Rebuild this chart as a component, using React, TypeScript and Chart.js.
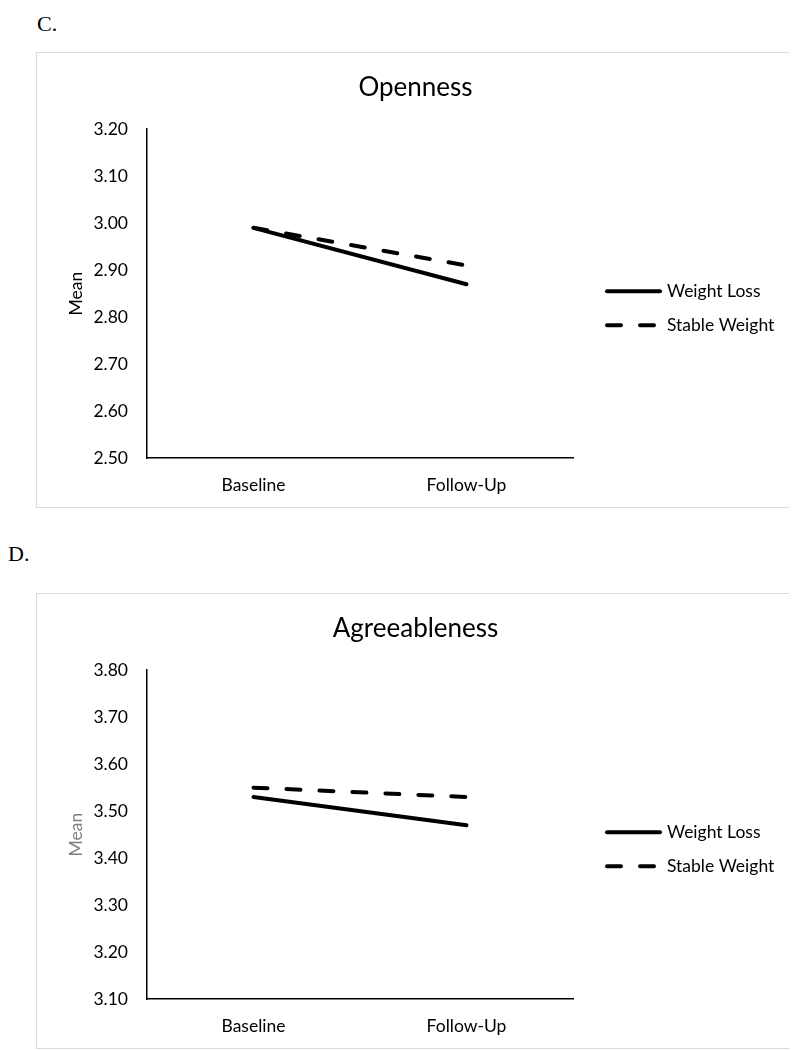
import React, { useEffect, useRef } from 'react';
import { Chart, registerables } from 'chart.js';

Chart.register(...registerables);

const categories = ['Baseline', 'Follow-Up'];
const seriesNames = ['Weight Loss', 'Stable Weight'];

const opennessWeightLoss = [2.99, 2.87];
const opennessStableWeight = [2.99, 2.91];
const opennessTicks = [2.5, 2.6, 2.7, 2.8, 2.9, 3.0, 3.1, 3.2];

const agreeWeightLoss = [3.53, 3.47];
const agreeStableWeight = [3.55, 3.53];
const agreeTicks = [3.1, 3.2, 3.3, 3.4, 3.5, 3.6, 3.7, 3.8];

const FONT = 'Lato';
const TEXT_SIZE = 17.5;

const lineLegend = {
  id: 'lineLegend',
  afterDraw(chart: any) {
    const { ctx, chartArea } = chart;
    const x0 = chartArea.right + 32;
    chart.data.datasets.forEach((ds: any, i: number) => {
      const y = chartArea.top + 162 + i * 34;
      ctx.save();
      ctx.strokeStyle = ds.borderColor;
      ctx.lineWidth = ds.borderWidth;
      ctx.lineCap = 'round';
      ctx.setLineDash(ds.borderDash || []);
      ctx.beginPath();
      ctx.moveTo(x0 + 2, y);
      ctx.lineTo(x0 + 55, y);
      ctx.stroke();
      ctx.setLineDash([]);
      ctx.fillStyle = '#000';
      ctx.font = `${TEXT_SIZE}px ${FONT}`;
      ctx.textBaseline = 'middle';
      ctx.textAlign = 'left';
      ctx.fillText(ds.label, x0 + 62, y);
      ctx.restore();
    });
  },
};

type PanelProps = {
  title: string;
  wl: number[];
  sw: number[];
  ticks: number[];
  meanColor: string;
  top: number;
};

function Panel({ title, wl, sw, ticks, meanColor, top }: PanelProps) {
  const ref = useRef<HTMLCanvasElement | null>(null);
  useEffect(() => {
    if (!ref.current) return;
    const chart = new Chart(ref.current, {
      type: 'line',
      data: {
        labels: categories,
        datasets: [
          {
            label: seriesNames[0],
            data: wl,
            borderColor: '#000',
            borderWidth: 4,
            borderCapStyle: 'round',
            pointRadius: 0,
            fill: false,
            tension: 0,
          },
          {
            label: seriesNames[1],
            data: sw,
            borderColor: '#000',
            borderWidth: 4,
            borderCapStyle: 'round',
            borderDash: [14, 19],
            pointRadius: 0,
            fill: false,
            tension: 0,
          },
        ],
      },
      options: {
        responsive: false,
        animation: false,
        layout: { padding: 0 },
        plugins: {
          legend: { display: false },
          tooltip: { enabled: false },
          title: {
            display: true,
            text: title,
            color: '#000',
            font: { family: FONT, size: 26, weight: 'normal' },
            padding: { top: 19, bottom: 26 },
          },
        },
        scales: {
          x: {
            type: 'category',
            offset: true,
            afterFit: (s: any) => {
              s.height = 49;
            },
            grid: { display: false, drawTicks: false },
            border: { display: true, color: '#000', width: 1.5 },
            ticks: { padding: 17, color: '#000', font: { family: FONT, size: TEXT_SIZE } },
          },
          y: {
            min: ticks[0],
            max: ticks[ticks.length - 1],
            afterBuildTicks: (s: any) => {
              s.ticks = ticks.map((v) => ({ value: v }));
            },
            afterFit: (s: any) => {
              s.width = 110;
            },
            grid: { display: false, drawTicks: false },
            border: { display: true, color: '#000', width: 1.5 },
            ticks: {
              padding: 19,
              color: '#000',
              font: { family: FONT, size: TEXT_SIZE },
              callback: (v: any) => Number(v).toFixed(2),
            },
            title: {
              display: true,
              text: 'Mean',
              color: meanColor,
              font: { family: FONT, size: TEXT_SIZE },
              padding: { top: 29, bottom: 0 },
            },
          },
          legendSpace: {
            type: 'linear',
            axis: 'y',
            position: 'right',
            display: true,
            afterFit: (s: any) => {
              s.width = 221;
            },
            grid: { display: false, drawTicks: false },
            border: { display: false },
            ticks: { display: false },
          },
        },
      },
      plugins: [lineLegend],
    } as any);
    return () => chart.destroy();
  }, []);
  return (
    <div
      style={{
        position: 'absolute',
        left: 28,
        top,
        width: 759,
        height: 456,
        border: '1px solid #d9d9d9',
        boxSizing: 'border-box',
        background: '#fff',
      }}
    >
      <canvas ref={ref} width={757} height={454} style={{ display: 'block' }} />
    </div>
  );
}

export default function App() {
  const label: React.CSSProperties = {
    position: 'absolute',
    fontFamily: '"Liberation Serif", "Times New Roman", serif',
    fontSize: 22,
    lineHeight: '22px',
    color: '#000',
  };
  return (
    <div style={{ position: 'relative', width: 789, height: 1042 }}>
      <div style={{ ...label, left: 29, top: 5 }}>C.</div>
      <Panel title="Openness" wl={opennessWeightLoss} sw={opennessStableWeight} ticks={opennessTicks} meanColor="#000" top={44} />
      <div style={{ ...label, left: 0, top: 535 }}>D.</div>
      <Panel title="Agreeableness" wl={agreeWeightLoss} sw={agreeStableWeight} ticks={agreeTicks} meanColor="#808080" top={585} />
    </div>
  );
}
